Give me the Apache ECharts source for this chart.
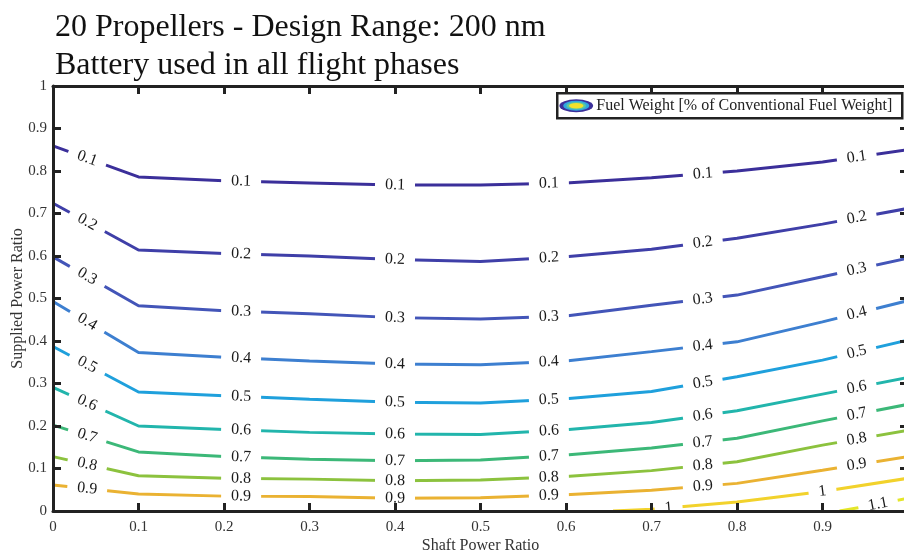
<!DOCTYPE html>
<html>
<head>
<meta charset="utf-8">
<script src="https://cdn.jsdelivr.net/npm/echarts@6/dist/echarts.min.js"></script>
<style>
  html, body { margin: 0; padding: 0; background: #fff; }
  #chart { width: 904px; height: 554px; }
</style>
</head>
<body>
<div id="chart"></div>
<script>
// Shaft power ratio grid on which the contour levels were traced
const shaftRatio = [0, 0.1, 0.2, 0.3, 0.4, 0.5, 0.6, 0.7, 0.8, 0.9, 1.0];

// Supplied power ratio along each fuel-weight contour (fraction of conventional fuel weight)
const supplied_0_1 = [0.859, 0.786, 0.777, 0.772, 0.767, 0.767, 0.772, 0.784, 0.800, 0.821, 0.850];
const supplied_0_2 = [0.724, 0.614, 0.606, 0.600, 0.592, 0.587, 0.598, 0.616, 0.642, 0.675, 0.712];
const supplied_0_3 = [0.598, 0.483, 0.471, 0.464, 0.455, 0.452, 0.459, 0.484, 0.508, 0.551, 0.595];
const supplied_0_4 = [0.493, 0.373, 0.362, 0.353, 0.346, 0.344, 0.353, 0.375, 0.398, 0.445, 0.495];
const supplied_0_5 = [0.387, 0.280, 0.271, 0.263, 0.256, 0.254, 0.264, 0.281, 0.316, 0.355, 0.402];
const supplied_0_6 = [0.291, 0.200, 0.192, 0.185, 0.181, 0.180, 0.191, 0.208, 0.236, 0.275, 0.314];
const supplied_0_7 = [0.202, 0.139, 0.128, 0.122, 0.118, 0.120, 0.132, 0.148, 0.171, 0.212, 0.251];
const supplied_0_8 = [0.128, 0.083, 0.077, 0.075, 0.071, 0.073, 0.081, 0.095, 0.116, 0.155, 0.190];
const supplied_0_9 = [0.061, 0.040, 0.035, 0.034, 0.030, 0.031, 0.038, 0.049, 0.065, 0.096, 0.128];
const shaft_1_0 = [0.655, 0.7, 0.8, 0.9, 1.0];
const supplied_1_0 = [0.0, 0.004, 0.021, 0.046, 0.077];
const shaft_1_1 = [0.92, 0.96, 1.0];
const supplied_1_1 = [0.0, 0.014, 0.030];

const levelNames = ['0.1', '0.2', '0.3', '0.4', '0.5', '0.6', '0.7', '0.8', '0.9', '1', '1.1'];
const levelColors = ['#3b2f9a', '#3f3fa8', '#4355b8', '#3d7fd0', '#1fa0dc', '#22b5ac',
                     '#3cb878', '#8cc23e', '#eab232', '#f2d22c', '#e4e62a'];

// Shaft power ratios where the inline level labels sit
const labelShaftMain = [0.04, 0.22, 0.40, 0.58, 0.76, 0.94];
const labelShaft_1_0 = [0.72, 0.90];
const labelShaft_1_1 = [0.965];

const xTicks = [0, 0.1, 0.2, 0.3, 0.4, 0.5, 0.6, 0.7, 0.8, 0.9];

const GRID = { left: 53, top: 86, width: 855, height: 425 };
const SERIF = "'Liberation Serif', 'Times New Roman', serif";
const INK = '#222';

const contours = [
  { xs: shaftRatio, ys: supplied_0_1, at: labelShaftMain },
  { xs: shaftRatio, ys: supplied_0_2, at: labelShaftMain },
  { xs: shaftRatio, ys: supplied_0_3, at: labelShaftMain },
  { xs: shaftRatio, ys: supplied_0_4, at: labelShaftMain },
  { xs: shaftRatio, ys: supplied_0_5, at: labelShaftMain },
  { xs: shaftRatio, ys: supplied_0_6, at: labelShaftMain },
  { xs: shaftRatio, ys: supplied_0_7, at: labelShaftMain },
  { xs: shaftRatio, ys: supplied_0_8, at: labelShaftMain },
  { xs: shaftRatio, ys: supplied_0_9, at: labelShaftMain },
  { xs: shaft_1_0, ys: supplied_1_0, at: labelShaft_1_0 },
  { xs: shaft_1_1, ys: supplied_1_1, at: labelShaft_1_1 }
];

// Value and on-screen angle of a polyline at a given x
function pointOn(xs, ys, x) {
  let i = 0;
  while (i < xs.length - 2 && x > xs[i + 1]) i++;
  const t = (x - xs[i]) / (xs[i + 1] - xs[i]);
  const y = ys[i] + t * (ys[i + 1] - ys[i]);
  const dyPx = (ys[i + 1] - ys[i]) * GRID.height;
  const dxPx = (xs[i + 1] - xs[i]) * GRID.width;
  const angle = Math.atan2(dyPx, dxPx) * 180 / Math.PI;
  return { y, angle };
}

const series = [];
contours.forEach((c, k) => {
  series.push({
    type: 'line',
    data: c.xs.map((x, i) => [x, c.ys[i]]),
    symbol: 'none',
    lineStyle: { color: levelColors[k], width: 3 },
    silent: true,
    animation: false,
    z: 2
  });
  series.push({
    type: 'scatter',
    symbolSize: 0,
    silent: true,
    animation: false,
    z: 3,
    itemStyle: { opacity: 1 },
    data: c.at.map(x => {
      const p = pointOn(c.xs, c.ys, x);
      return { value: [x, p.y], label: { rotate: p.angle } };
    }),
    label: {
      show: true,
      position: 'inside',
      formatter: levelNames[k],
      fontFamily: SERIF,
      fontSize: 16,
      color: '#1a1a1a',
      opacity: 1,
      backgroundColor: '#fff',
      padding: [0, 10],
      lineHeight: 13,
      align: 'center',
      verticalAlign: 'middle'
    },
    emphasis: { disabled: true }
  });
});

const tickFmt = v => {
  const r = Math.round(v * 10) / 10;
  return r === 0 ? '0' : r === 1 ? '1' : r.toFixed(1);
};

const axisCommon = {
  type: 'value',
  min: 0,
  max: 1,
  interval: 0.1,
  splitLine: { show: false },
  axisLine: { show: true, onZero: false, lineStyle: { color: INK, width: 3 } },
  axisTick: { show: true, inside: true, length: 8, lineStyle: { color: INK, width: 3 } },
  z: 10
};

const option = {
  backgroundColor: '#fff',
  animation: false,
  title: {
    text: '20 Propellers - Design Range: 200 nm\nBattery used in all flight phases',
    left: 50,
    top: 4,
    textStyle: { fontFamily: SERIF, fontSize: 32, fontWeight: 'normal', color: '#111', lineHeight: 38 }
  },
  grid: Object.assign({ containLabel: false, outerBoundsMode: 'none' }, GRID),
  xAxis: [
    Object.assign({}, axisCommon, {
      position: 'bottom',
      name: 'Shaft Power Ratio',
      nameLocation: 'middle',
      nameGap: 27,
      nameMoveOverlap: false,
      nameTextStyle: { fontFamily: SERIF, fontSize: 16, color: '#333' },
      axisLabel: {
        fontFamily: SERIF, fontSize: 15, color: '#333', margin: 9,
        formatter: v => (xTicks.some(t => Math.abs(t - v) < 1e-6) ? tickFmt(v) : '')
      }
    }),
    Object.assign({}, axisCommon, { position: 'top', axisLabel: { show: false } })
  ],
  yAxis: [
    Object.assign({}, axisCommon, {
      position: 'left',
      name: 'Supplied Power Ratio',
      nameLocation: 'middle',
      nameGap: 27,
      nameMoveOverlap: false,
      nameTextStyle: { fontFamily: SERIF, fontSize: 16, color: '#333' },
      axisLabel: { fontFamily: SERIF, fontSize: 15, color: '#333', margin: 6, formatter: tickFmt }
    }),
    Object.assign({}, axisCommon, { position: 'right', axisLabel: { show: false } })
  ],
  graphic: [
    {
      type: 'group',
      left: 556,
      top: 92,
      z: 20,
      children: [
        { type: 'rect', shape: { x: 0, y: 0, width: 345, height: 25 },
          style: { fill: '#fff', stroke: INK, lineWidth: 2.5 } },
        { type: 'circle', x: 19, y: 12.5, scaleX: 2.6, shape: { cx: 0, cy: 0, r: 6.5 }, style: { fill: '#3b2f9a' } },
        { type: 'circle', x: 19, y: 12.5, scaleX: 2.6, shape: { cx: 0, cy: 0, r: 5 }, style: { fill: '#2fa6e0' } },
        { type: 'circle', x: 19, y: 12.5, scaleX: 2.6, shape: { cx: 0, cy: 0, r: 3.8 }, style: { fill: '#5cc8a0' } },
        { type: 'circle', x: 19, y: 12.5, scaleX: 2.6, shape: { cx: 0, cy: 0, r: 2.8 }, style: { fill: '#f2e22a' } },
        { type: 'text', x: 39, y: 12.5,
          style: { text: 'Fuel Weight [% of Conventional Fuel Weight]', fontFamily: SERIF, fontSize: 16,
                   fill: '#222', verticalAlign: 'middle' } }
      ]
    }
  ],
  series: series
};

const chart = echarts.init(document.getElementById('chart'), null, { renderer: 'canvas' });
chart.setOption(option);
</script>
</body>
</html>
